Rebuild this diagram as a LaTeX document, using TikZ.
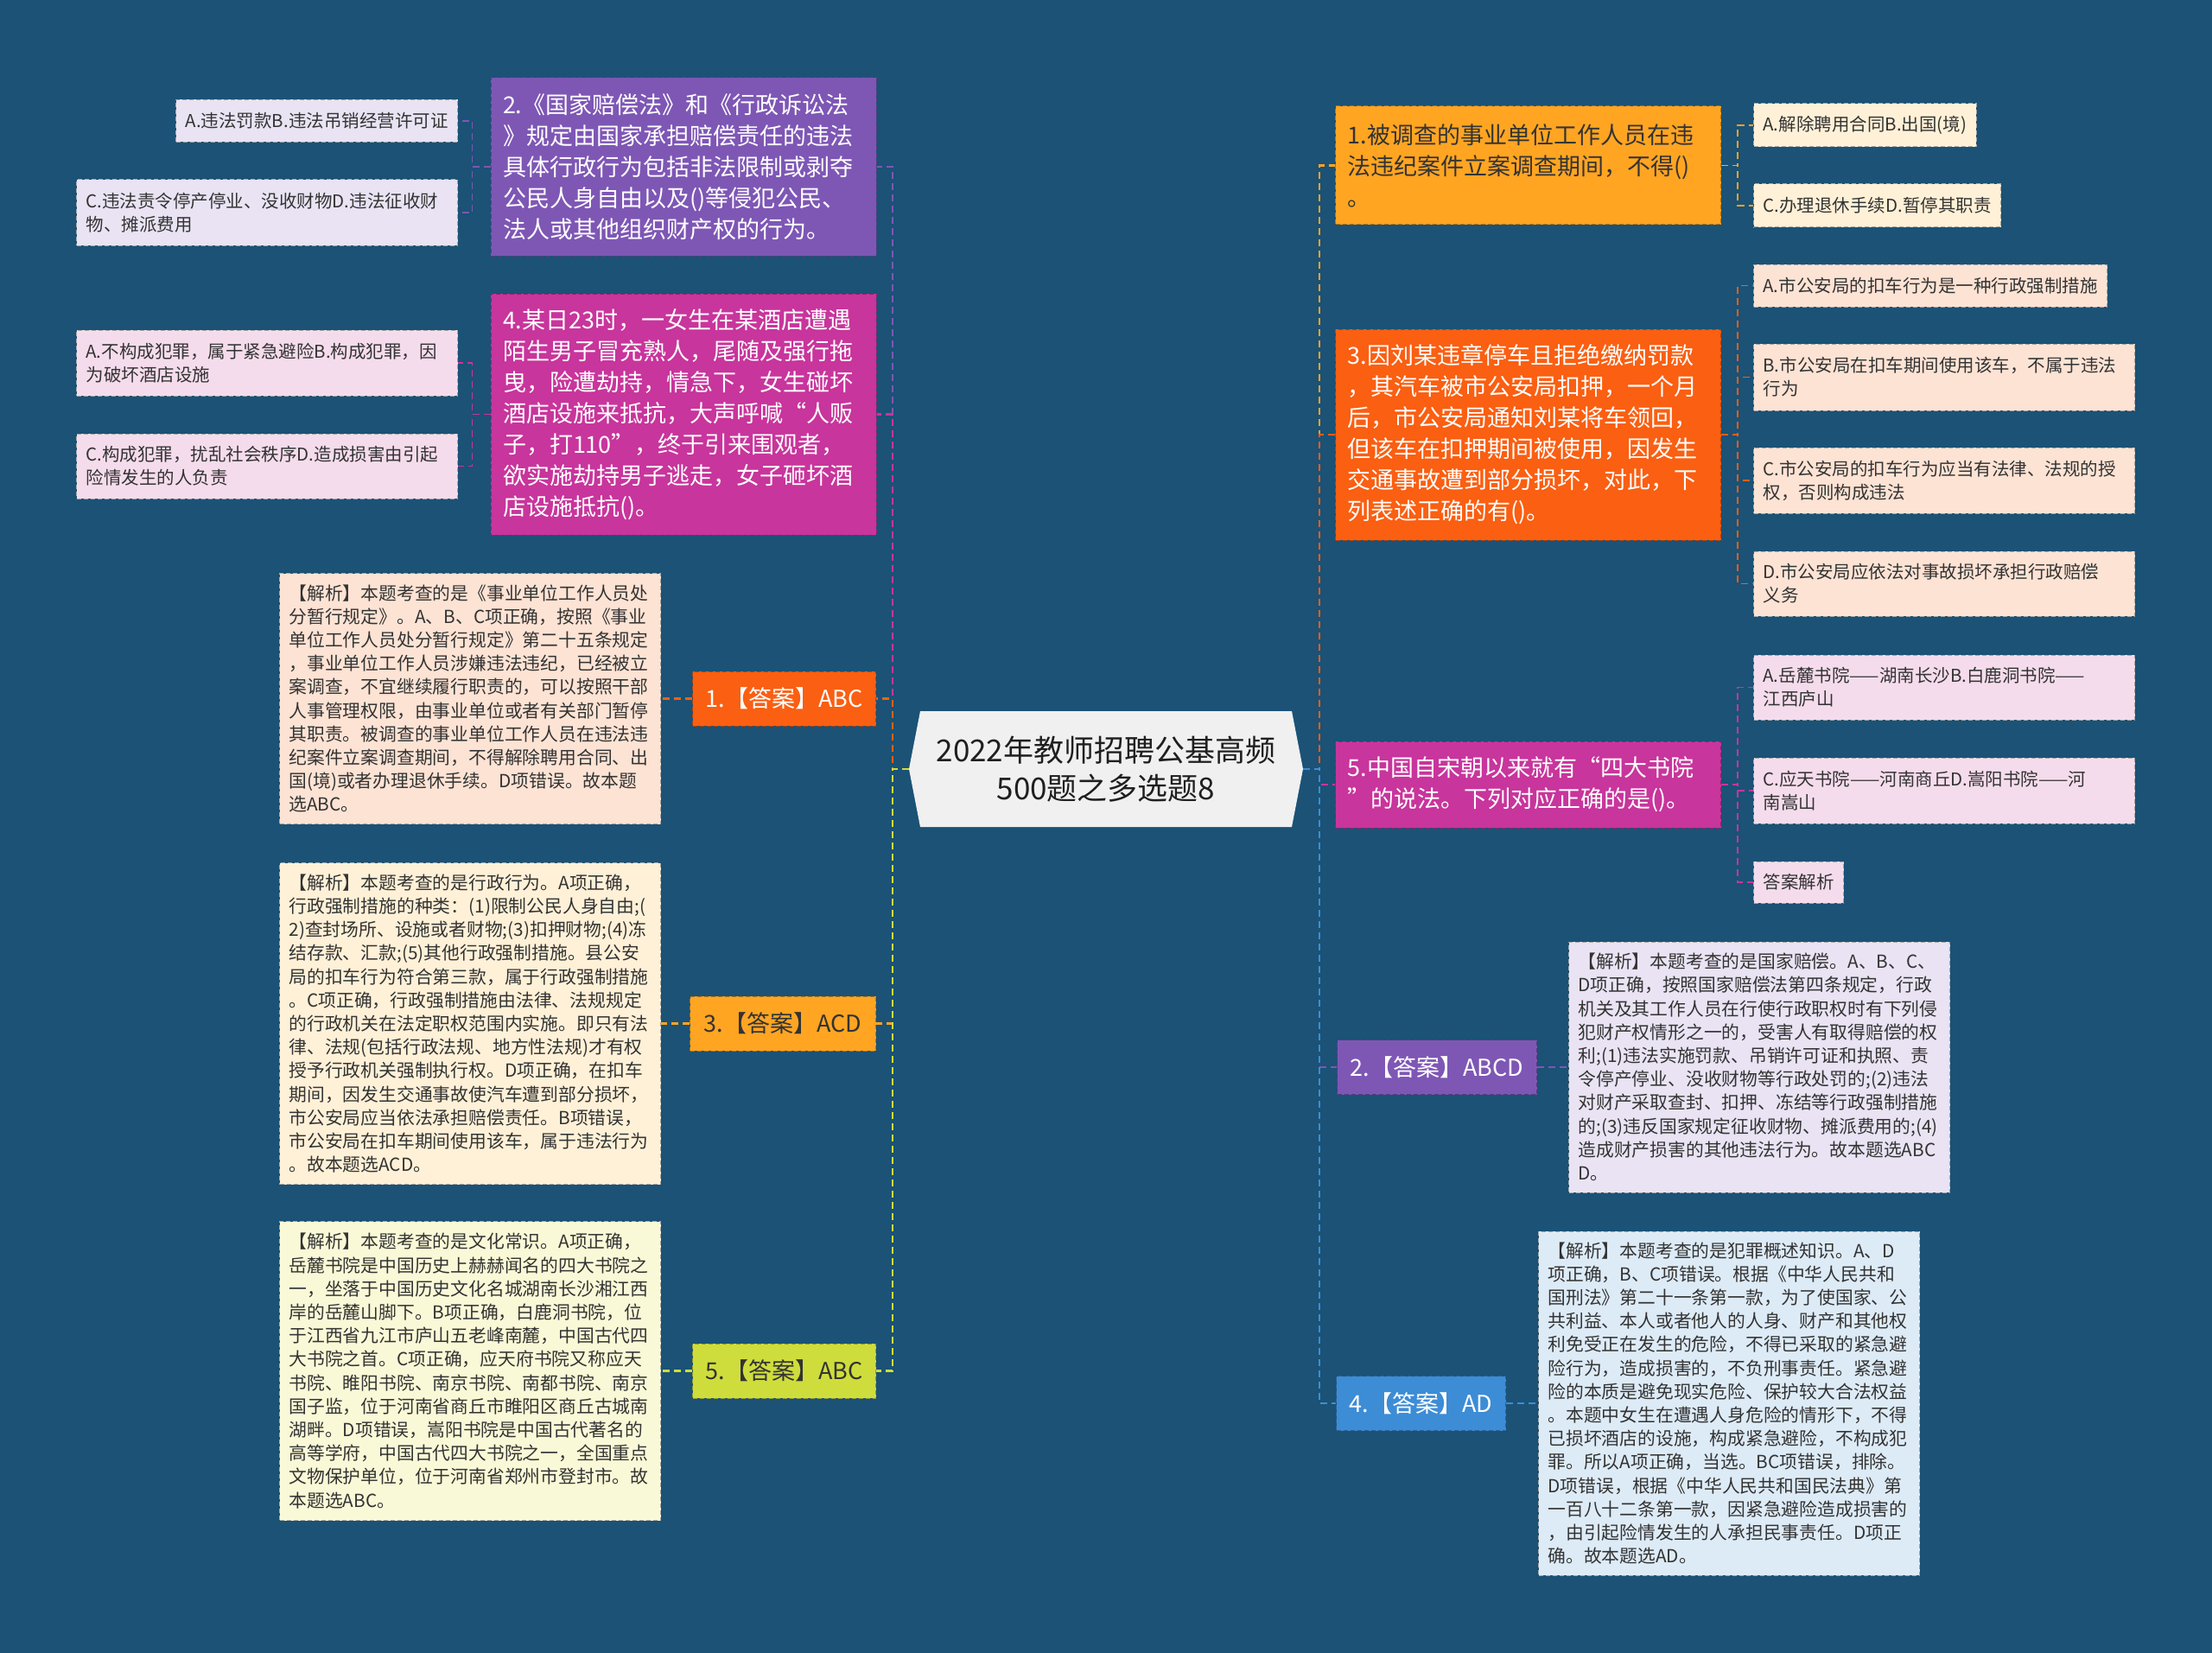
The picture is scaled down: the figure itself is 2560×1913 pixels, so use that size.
\documentclass[tikz,border=0pt]{standalone}
\usepackage{fontspec}
\setmainfont{Noto Sans CJK SC}

\definecolor{bgblue}{HTML}{1B5276}
\definecolor{cpurple}{HTML}{7E57B5}
\definecolor{cmagenta}{HTML}{C8359C}
\definecolor{cred}{HTML}{FA5F12}
\definecolor{corange}{HTML}{FFA522}
\definecolor{clime}{HTML}{CFDD3C}
\definecolor{cblue}{HTML}{3D8CD6}
\definecolor{lpurple}{HTML}{E9E3F3}
\definecolor{lmagenta}{HTML}{F5DCEC}
\definecolor{lred}{HTML}{FDE3D4}
\definecolor{lorange}{HTML}{FFF1D7}
\definecolor{llime}{HTML}{FAF9D7}
\definecolor{lblue}{HTML}{DDEBF7}
\definecolor{rootbg}{HTML}{F0F0F0}

\newcommand\rootfont{\fontsize{35}{44}\selectfont}
\newcommand\topicfont{\fontsize{27}{36}\selectfont}
\newcommand\optfont{\fontsize{20.5}{27}\selectfont}
\newcommand\notefont{\fontsize{20.8}{27.2}\selectfont}

\begin{document}
\begin{tikzpicture}[x=1pt, y=-1pt,
    topic/.style={fill=#1, draw=#1!70!black, dash pattern=on 5pt off 3pt, line width=1pt, font=\topicfont, align=left, text width=418pt, inner xsep=14pt, inner ysep=8pt},
    ans/.style={fill=#1, draw=#1!70!black, dash pattern=on 5pt off 3pt, line width=1pt, font=\topicfont, minimum height=63pt, inner xsep=15pt},
    opt/.style={fill=#1, draw=black!35, dash pattern=on 5pt off 3pt, line width=1pt, font=\optfont, align=left, inner xsep=11pt, text=black!80},
    wide/.style={text width=419pt},
    note/.style={fill=#1, draw=black!35, dash pattern=on 5pt off 3pt, line width=1pt, font=\notefont, align=left, text width=419pt, inner xsep=11pt, text=black!80},
    link/.style={draw=#1, line width=2.5pt, dash pattern=on 8pt off 5pt}]

    % Background %
    \fill[bgblue] (0,0) rectangle (2560,1913);
    \useasboundingbox (0,0) rectangle (2560,1913);

    % Root %
    \fill[rootbg] (1065,823) -- (1495,823) -- (1508,890) -- (1495,957) -- (1065,957) -- (1052,890) -- cycle;
    \node[font=\rootfont, text=black!88, align=center, minimum width=456pt, minimum height=134pt] (root) at (1280,890) {2022年教师招聘公基高频\\500题之多选题8};

    % Left questions %
    \node[topic=cpurple, text=white, minimum height=206pt] (q2) at (791,193) {2.《国家赔偿法》和《行政诉讼法\\》规定由国家承担赔偿责任的违法\\具体行政行为包括非法限制或剥夺\\公民人身自由以及()等侵犯公民、\\法人或其他组织财产权的行为。};
    \node[opt=lpurple, minimum height=49pt, anchor=east] (q2a) at (530,140) {A.违法罚款B.违法吊销经营许可证};
    \node[opt=lpurple, wide, minimum height=76pt, anchor=east] (q2b) at (530,246) {C.违法责令停产停业、没收财物D.违法征收财\\物、摊派费用};

    \node[topic=cmagenta, text=white, minimum height=279pt] (q4) at (791,479.5) {4.某日23时，一女生在某酒店遭遇\\陌生男子冒充熟人，尾随及强行拖\\曳，险遭劫持，情急下，女生碰坏\\酒店设施来抵抗，大声呼喊“人贩\\子，打110”，终于引来围观者，\\欲实施劫持男子逃走，女子砸坏酒\\店设施抵抗()。};
    \node[opt=lmagenta, wide, minimum height=76pt, anchor=east] (q4a) at (530,420) {A.不构成犯罪，属于紧急避险B.构成犯罪，因\\为破坏酒店设施};
    \node[opt=lmagenta, wide, minimum height=75pt, anchor=east] (q4b) at (530,539.5) {C.构成犯罪，扰乱社会秩序D.造成损害由引起\\险情发生的人负责};

    % Left answers %
    \node[ans=cred, text=white, minimum width=212pt, anchor=east] (a1) at (1014,808.5) {1.【答案】ABC};
    \node[note=lred, minimum height=290pt, anchor=east] (a1x) at (765,808.5) {【解析】本题考查的是《事业单位工作人员处\\分暂行规定》。A、B、C项正确，按照《事业\\单位工作人员处分暂行规定》第二十五条规定\\，事业单位工作人员涉嫌违法违纪，已经被立\\案调查，不宜继续履行职责的，可以按照干部\\人事管理权限，由事业单位或者有关部门暂停\\其职责。被调查的事业单位工作人员在违法违\\纪案件立案调查期间，不得解除聘用合同、出\\国(境)或者办理退休手续。D项错误。故本题\\选ABC。};

    \node[ans=corange, text=black!80, minimum width=215pt, anchor=east] (a3) at (1014,1184.5) {3.【答案】ACD};
    \node[note=lorange, minimum height=372pt, anchor=east] (a3x) at (765,1184.5) {【解析】本题考查的是行政行为。A项正确，\\行政强制措施的种类：(1)限制公民人身自由;(\\2)查封场所、设施或者财物;(3)扣押财物;(4)冻\\结存款、汇款;(5)其他行政强制措施。县公安\\局的扣车行为符合第三款，属于行政强制措施\\。C项正确，行政强制措施由法律、法规规定\\的行政机关在法定职权范围内实施。即只有法\\律、法规(包括行政法规、地方性法规)才有权\\授予行政机关强制执行权。D项正确，在扣车\\期间，因发生交通事故使汽车遭到部分损坏，\\市公安局应当依法承担赔偿责任。B项错误，\\市公安局在扣车期间使用该车，属于违法行为\\。故本题选ACD。};

    \node[ans=clime, text=black!80, minimum width=212pt, anchor=east] (a5) at (1014,1586.5) {5.【答案】ABC};
    \node[note=llime, minimum height=346pt, anchor=east] (a5x) at (765,1586.5) {【解析】本题考查的是文化常识。A项正确，\\岳麓书院是中国历史上赫赫闻名的四大书院之\\一，坐落于中国历史文化名城湖南长沙湘江西\\岸的岳麓山脚下。B项正确，白鹿洞书院，位\\于江西省九江市庐山五老峰南麓，中国古代四\\大书院之首。C项正确，应天府书院又称应天\\书院、睢阳书院、南京书院、南都书院、南京\\国子监，位于河南省商丘市睢阳区商丘古城南\\湖畔。D项错误，嵩阳书院是中国古代著名的\\高等学府，中国古代四大书院之一，全国重点\\文物保护单位，位于河南省郑州市登封市。故\\本题选ABC。};

    % Right questions %
    \node[topic=corange, text=black!80, minimum height=137pt] (q1) at (1768.5,191.5) {1.被调查的事业单位工作人员在违\\法违纪案件立案调查期间，不得()\\。};
    \node[opt=lorange, minimum height=50pt, anchor=west] (q1a) at (2029,145) {A.解除聘用合同B.出国(境)};
    \node[opt=lorange, minimum height=50pt, anchor=west] (q1b) at (2029,238) {C.办理退休手续D.暂停其职责};

    \node[topic=cred, text=white, minimum height=244pt] (q3) at (1768.5,503) {3.因刘某违章停车且拒绝缴纳罚款\\，其汽车被市公安局扣押，一个月\\后，市公安局通知刘某将车领回，\\但该车在扣押期间被使用，因发生\\交通事故遭到部分损坏，对此，下\\列表述正确的有()。};
    \node[opt=lred, minimum height=49pt, anchor=west] (q3a) at (2029,330.5) {A.市公安局的扣车行为是一种行政强制措施};
    \node[opt=lred, wide, minimum height=77pt, anchor=west] (q3b) at (2029,436.5) {B.市公安局在扣车期间使用该车，不属于违法\\行为};
    \node[opt=lred, wide, minimum height=76pt, anchor=west] (q3c) at (2029,556) {C.市公安局的扣车行为应当有法律、法规的授\\权，否则构成违法};
    \node[opt=lred, wide, minimum height=75pt, anchor=west] (q3d) at (2029,675.5) {D.市公安局应依法对事故损坏承担行政赔偿\\义务};

    \node[topic=cmagenta, text=white, minimum height=100pt] (q5) at (1768.5,908) {5.中国自宋朝以来就有“四大书院\\”的说法。下列对应正确的是()。};
    \node[opt=lmagenta, wide, minimum height=75pt, anchor=west] (q5a) at (2029,795.5) {A.岳麓书院——湖南长沙B.白鹿洞书院——\\江西庐山};
    \node[opt=lmagenta, wide, minimum height=76pt, anchor=west] (q5b) at (2029,915) {C.应天书院——河南商丘D.嵩阳书院——河\\南嵩山};
    \node[opt=lmagenta, minimum height=48pt, anchor=west] (q5c) at (2029,1021) {答案解析};

    % Right answers %
    \node[ans=cpurple, text=white, minimum width=231pt, anchor=west] (a2) at (1547,1235) {2.【答案】ABCD};
    \node[note=lpurple, minimum height=290pt, anchor=west] (a2x) at (1815,1235) {【解析】本题考查的是国家赔偿。A、B、C、\\D项正确，按照国家赔偿法第四条规定，行政\\机关及其工作人员在行使行政职权时有下列侵\\犯财产权情形之一的，受害人有取得赔偿的权\\利;(1)违法实施罚款、吊销许可证和执照、责\\令停产停业、没收财物等行政处罚的;(2)违法\\对财产采取查封、扣押、冻结等行政强制措施\\的;(3)违反国家规定征收财物、摊派费用的;(4)\\造成财产损害的其他违法行为。故本题选ABC\\D。};

    \node[ans=cblue, text=white, minimum width=196pt, anchor=west] (a4) at (1546,1624) {4.【答案】AD};
    \node[note=lblue, minimum height=398pt, anchor=west] (a4x) at (1780,1624) {【解析】本题考查的是犯罪概述知识。A、D\\项正确，B、C项错误。根据《中华人民共和\\国刑法》第二十一条第一款，为了使国家、公\\共利益、本人或者他人的人身、财产和其他权\\利免受正在发生的危险，不得已采取的紧急避\\险行为，造成损害的，不负刑事责任。紧急避\\险的本质是避免现实危险、保护较大合法权益\\。本题中女生在遭遇人身危险的情形下，不得\\已损坏酒店的设施，构成紧急避险，不构成犯\\罪。所以A项正确，当选。BC项错误，排除。\\D项错误，根据《中华人民共和国民法典》第\\一百八十二条第一款，因紧急避险造成损害的\\，由引起险情发生的人承担民事责任。D项正\\确。故本题选AD。};

    % Connectors %
    \draw[link=cpurple] (root.west) -- ++(-19,0) |- (q2.east);
    \draw[link=cmagenta] (root.west) -- ++(-19,0) |- (q4.east);
    \draw[link=cred] (root.west) -- ++(-19,0) |- (a1.east);
    \draw[link=corange] (root.west) -- ++(-19,0) |- (a3.east);
    \draw[link=clime] (root.west) -- ++(-19,0) |- (a5.east);
    \draw[link=corange] (root.east) -- ++(19,0) |- (q1.west);
    \draw[link=cred] (root.east) -- ++(19,0) |- (q3.west);
    \draw[link=cmagenta] (root.east) -- ++(19,0) |- (q5.west);
    \draw[link=cpurple] (root.east) -- ++(19,0) |- (a2.west);
    \draw[link=cblue] (root.east) -- ++(19,0) |- (a4.west);

    \foreach \c in {q2a,q2b} \draw[link=cpurple, line width=1.8pt] (q2.west) -- ++(-21,0) |- (\c.east);
    \foreach \c in {q4a,q4b} \draw[link=cmagenta, line width=1.8pt] (q4.west) -- ++(-21,0) |- (\c.east);
    \foreach \c in {q1a,q1b} \draw[link=corange, line width=1.8pt] (q1.east) -- ++(19,0) |- (\c.west);
    \foreach \c in {q3a,q3b,q3c,q3d} \draw[link=cred, line width=1.8pt] (q3.east) -- ++(19,0) |- (\c.west);
    \foreach \c in {q5a,q5b,q5c} \draw[link=cmagenta, line width=1.8pt] (q5.east) -- ++(19,0) |- (\c.west);

    \draw[link=cred] (a1.west) -- (a1x.east);
    \draw[link=corange] (a3.west) -- (a3x.east);
    \draw[link=clime] (a5.west) -- (a5x.east);
    \draw[link=cpurple] (a2.east) -- (a2x.west);
    \draw[link=cblue] (a4.east) -- (a4x.west);
\end{tikzpicture}
\end{document}
